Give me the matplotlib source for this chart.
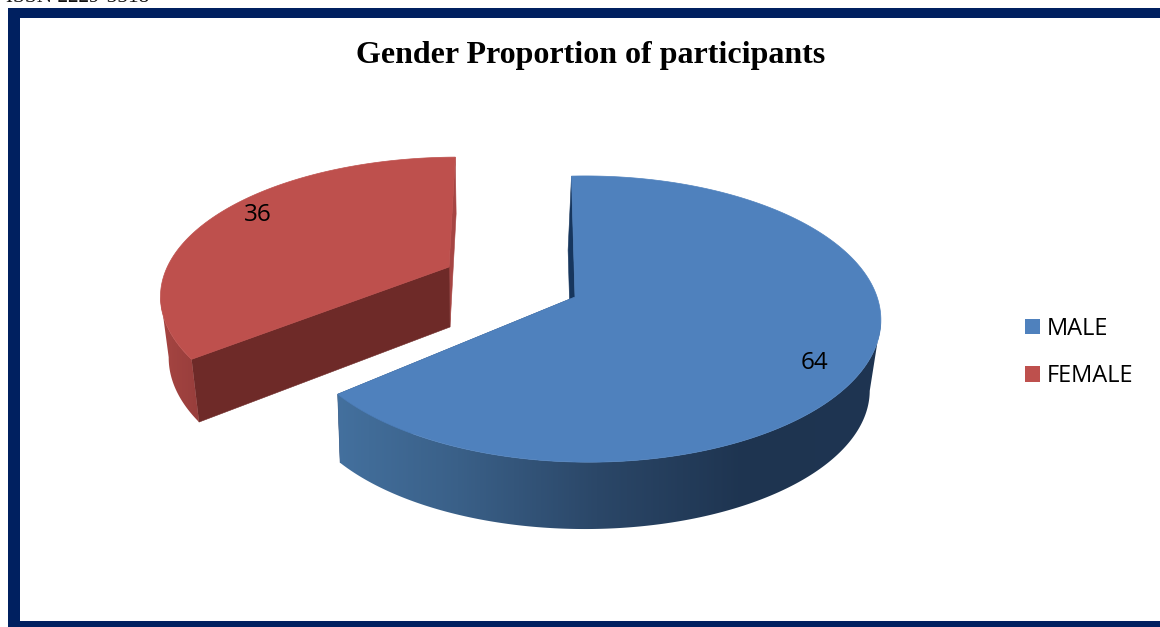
import numpy as np
import matplotlib
matplotlib.use("Agg")
import matplotlib.pyplot as plt
from matplotlib.patches import Rectangle, Polygon
from matplotlib.colors import LinearSegmentedColormap

TITLE = "Gender Proportion of participants"
HEADER = "ISSN 2229-5518"
categories = ["MALE", "FEMALE"]
values = [64, 36]
top_colors = ["#4F81BD", "#BE504D"]

NAVY = "#002060"
L = 0.04

fig = plt.figure(figsize=(11.6, 6.27), dpi=100)
ax = fig.add_axes([0, 0, 1, 1])
ax.axis("off")

ax.add_patch(Rectangle((8, 8), 1152, 619, fc=NAVY, ec="none", zorder=0))
ax.add_patch(Rectangle((20, 18), 1140, 603, fc="white", ec="none", zorder=0.1))
ax.text(6, -2, HEADER, family="Liberation Serif", fontsize=15.3, ha="left", va="center", color="#111111", clip_on=False)
ax.text(590.5, 55.5, TITLE, family="Liberation Serif", fontweight="bold", fontsize=23, ha="center", va="center", color="black")


def project(theta_deg, radius, cx, cy, a, b, k):
    t = np.radians(theta_deg)
    u, v = radius * np.cos(t), radius * np.sin(t)
    w = 1 + k * v - L * u
    return cx + a * u / w, cy - b * v / w


def draw_slice(value, start, direction, cx, cy, a, b, k, depth, sx, sy, dx, top, cut_colors, side_cmap, xr):
    sweep = value / sum(values) * 360
    th = np.linspace(start, start + direction * sweep, 361)
    xt, yt = project(th, 1, cx, cy, a, b, k)
    xb, yb = project(th, 1, cx + dx, cy + depth, a * sx, b * sy, k)
    axb, ayb = project(0, 0, cx + dx, cy + depth, a * sx, b * sy, k)
    # flat cut faces, behind the wall and the top
    for i, col in zip((0, -1), cut_colors):
        ax.add_patch(Polygon([(cx, cy), (xt[i], yt[i]), (xb[i], yb[i]), (axb, ayb)],
                             closed=True, fc=col, ec=col, lw=0.4, zorder=2))
    # outer wall with a gradient along screen x, from the silhouette point of each rim
    i_top = np.argmax(-direction * xt)
    i_bot = np.argmax(-direction * xb)
    wall = np.column_stack([np.r_[xt[i_top:], xb[i_bot:][::-1]], np.r_[yt[i_top:], yb[i_bot:][::-1]]])
    poly = Polygon(wall, closed=True, fc="none", ec="none", transform=ax.transData)
    ax.add_patch(poly)
    im = ax.imshow(np.linspace(0, 1, 512)[None, :], cmap=side_cmap, vmin=0, vmax=1, aspect="auto",
                   extent=(xr[0], xr[1], 627, 0), zorder=2.5, interpolation="bilinear")
    im.set_clip_path(poly)
    ax.add_patch(Polygon(np.column_stack([np.r_[cx, xt], np.r_[cy, yt]]), closed=True,
                         fc=top, ec=top, lw=0.5, zorder=4))


blue_side = LinearSegmentedColormap.from_list(
    "b", [(0, "#44719F"), (0.23, "#3A6088"), (0.48, "#2B4768"), (0.75, "#1E3450"), (1, "#1F3552")])
red_side = LinearSegmentedColormap.from_list("r", ["#A84643", "#943C3A"])

draw_slice(values[0], 90.8, -1, 575, 297, 290, 139.6, 0.154, 71, 0.975, 0.975, -3.5, top_colors[0],
           ("#17365D", "#2A4A75"), blue_side, (330, 885))
draw_slice(values[1], 88.5, 1, 449, 267, 293, 134, 0.22, 60, 0.975, 1.03, 1, top_colors[1],
           ("#A64543", "#6E2A28"), red_side, (155, 210))

ax.set_xlim(0, 1160)
ax.set_ylim(627, 0)

ax.text(815, 363, str(values[0]), family="Open Sans", fontsize=17.5, ha="center", va="center", color="black", zorder=6)
ax.text(257.5, 215, str(values[1]), family="Open Sans", fontsize=17.5, ha="center", va="center", color="black", zorder=6)

handles = [Rectangle((0, 0), 1, 1, fc=c, ec="none") for c in top_colors]
leg = ax.legend(handles, categories, loc="upper left", bbox_to_anchor=(1025 / 1160, 1 - 317 / 627),
                frameon=False, prop={"family": "Open Sans", "size": 17},
                handlelength=0.63, handleheight=0.63, handletextpad=0.3, labelspacing=0.98,
                borderpad=0, borderaxespad=0)
fig.savefig("out.png", dpi=100)
